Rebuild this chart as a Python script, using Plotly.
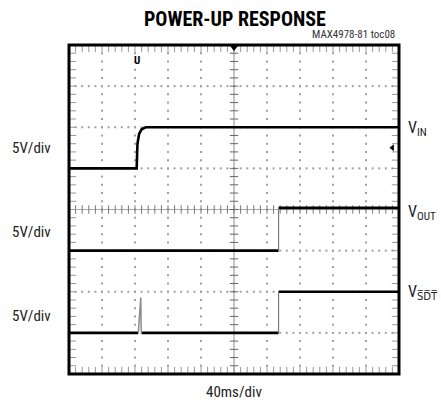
import numpy as np
import plotly.graph_objects as go

# ---- data (time in ms, voltages in V) ----
t_vin = [0, 82, 83, 85, 88, 93, 400]
v_vin = [0, 0, 3.0, 4.2, 4.75, 5.0, 5.0]

t_vout_low = [0, 254]
t_vout_high = [254, 400]
v_vout_low = 0.0
v_vout_high = 5.2

t_vsdt_low = [0, 84, 88, 254]
t_vsdt_high = [254, 400]
v_vsdt_low = 0.0
v_vsdt_high = 5.0
t_spike = [84, 85.5, 87, 87.5, 88]
v_spike = [0, 2.5, 4.3, 0.3, 0]

volts_per_div = 5.0
offset_vin, offset_vout, offset_vsdt = 5, 3, 1   # ground position in divisions
ms_per_div = 40
n_xdiv, n_ydiv = 10, 8

FONT = "Liberation Sans Narrow, Roboto Condensed, DejaVu Sans Condensed, Arial Narrow, sans-serif"

def ydiv(v, off):
    return [off + x / volts_per_div for x in v]

fig = go.Figure()

# ---- graticule dots ----
dx, dy = [], []
sub_x = np.arange(0, n_xdiv * ms_per_div + 0.1, ms_per_div / 5)
sub_y = np.arange(0, n_ydiv + 0.01, 0.2)
for i in range(1, n_xdiv):
    if i == 5:
        continue
    for yy in sub_y:
        dx.append(i * ms_per_div); dy.append(yy)
for j in range(1, n_ydiv):
    if j == 4:
        continue
    for xx in sub_x:
        dx.append(xx); dy.append(j)
fig.add_trace(go.Scatter(x=dx, y=dy, mode="markers", hoverinfo="skip",
                         marker=dict(symbol="square", size=2, color="#a0a0a0", line=dict(width=0))))

# center lines
cx = n_xdiv * ms_per_div / 2
fig.add_trace(go.Scatter(x=[cx, cx], y=[0, n_ydiv], mode="lines", hoverinfo="skip",
                         line=dict(color="#8c8c8c", width=1)))
fig.add_trace(go.Scatter(x=[0, n_xdiv * ms_per_div], y=[4, 4], mode="lines", hoverinfo="skip",
                         line=dict(color="#a8a8a8", width=1)))
# ticks on center lines and border (border ticks sit just inside the frame)
fig.add_trace(go.Scatter(x=[cx] * len(sub_y), y=list(sub_y), mode="markers", hoverinfo="skip",
                         marker=dict(symbol="line-ew", size=6, line=dict(width=1, color="#666"))))
fig.add_trace(go.Scatter(x=list(sub_x), y=[4] * len(sub_x), mode="markers", hoverinfo="skip",
                         marker=dict(symbol="line-ns", size=6, line=dict(width=1, color="#777"))))
in_y = 0.09
in_x = 0.09 * ms_per_div * 41 / 33
fig.add_trace(go.Scatter(x=list(sub_x) * 2, y=[in_y] * len(sub_x) + [n_ydiv - in_y] * len(sub_x),
                         mode="markers", hoverinfo="skip",
                         marker=dict(symbol="line-ns", size=5, line=dict(width=1, color="#999"))))
fig.add_trace(go.Scatter(x=[in_x] * len(sub_y) + [n_xdiv * ms_per_div - in_x] * len(sub_y), y=list(sub_y) * 2,
                         mode="markers", hoverinfo="skip",
                         marker=dict(symbol="line-ew", size=5, line=dict(width=1, color="#999"))))

# ---- traces ----
BLK = dict(color="black", width=2.6)
fig.add_trace(go.Scatter(x=t_vin, y=ydiv(v_vin, offset_vin), mode="lines", line=BLK))

fig.add_trace(go.Scatter(x=t_vout_low + [None] + t_vout_high,
                         y=ydiv([v_vout_low] * 2, offset_vout) + [None] + ydiv([v_vout_high] * 2, offset_vout),
                         mode="lines", line=BLK))
fig.add_trace(go.Scatter(x=[t_vout_low[-1], t_vout_high[0]],
                         y=ydiv([v_vout_low, v_vout_high], offset_vout),
                         mode="lines", line=dict(color="#777", width=1.2)))

fig.add_trace(go.Scatter(x=t_vsdt_low[:2] + [None] + t_vsdt_low[2:] + [None] + t_vsdt_high,
                         y=ydiv([v_vsdt_low] * 2, offset_vsdt) + [None] + ydiv([v_vsdt_low] * 2, offset_vsdt)
                         + [None] + ydiv([v_vsdt_high] * 2, offset_vsdt),
                         mode="lines", line=BLK))
fig.add_trace(go.Scatter(x=[t_vsdt_low[-1], t_vsdt_high[0]],
                         y=ydiv([v_vsdt_low, v_vsdt_high], offset_vsdt),
                         mode="lines", line=dict(color="#777", width=1.2)))
fig.add_trace(go.Scatter(x=t_spike, y=ydiv(v_spike, offset_vsdt), mode="lines",
                         line=dict(color="#8a8a8a", width=1.5)))

# markers: trigger position and level
fig.add_trace(go.Scatter(x=[cx], y=[n_ydiv - 0.05], mode="markers", cliponaxis=False, hoverinfo="skip",
                         marker=dict(symbol="triangle-down", size=8, color="black")))
fig.add_trace(go.Scatter(x=[392], y=[5.5], mode="markers", cliponaxis=False, hoverinfo="skip",
                         marker=dict(symbol="triangle-left", size=6, color="black")))

ann = []
ann.append(dict(x=82, y=7.62, xref="x", yref="y", text="<b>U</b>", showarrow=False,
                font=dict(size=11, color="black", family=FONT)))
for yv in [5.5, 3.45, 1.42]:
    ann.append(dict(x=-0.048, y=yv, xref="paper", yref="y", text="5V/div", showarrow=False,
                    xanchor="right", yanchor="middle", font=dict(size=15, color="#222", family=FONT)))
labels = ["V<sub>IN</sub>", "V<sub>OUT</sub>", "V<sub>S\u0305D\u0305T\u0305</sub>"]
for lab, yv in zip(labels, [5.98, 3.93, 1.98]):
    ann.append(dict(x=1.022, y=yv, xref="paper", yref="y", text=lab, showarrow=False,
                    xanchor="left", yanchor="middle", font=dict(size=16, color="#222", family=FONT)))
ann.append(dict(x=0.503, y=1.079, xref="paper", yref="paper", text="<b>POWER-UP RESPONSE</b>",
                showarrow=False, xanchor="center", yanchor="middle",
                font=dict(size=20, color="black", family=FONT)))
ann.append(dict(x=0.994, y=1.033, xref="paper", yref="paper", text="MAX4978-81 toc08",
                showarrow=False, xanchor="right", yanchor="middle",
                font=dict(size=11, color="#333", family=FONT)))
ann.append(dict(x=0.5, y=-0.055, xref="paper", yref="paper", text="40ms/div",
                showarrow=False, xanchor="center", yanchor="middle",
                font=dict(size=15, color="#222", family=FONT)))

fig.update_layout(
    width=441, height=404,
    margin=dict(l=69, r=42, t=45, b=30),
    paper_bgcolor="white", plot_bgcolor="white",
    showlegend=False,
    xaxis=dict(range=[0, n_xdiv * ms_per_div], showgrid=False, zeroline=False, showticklabels=False,
               ticks="", fixedrange=True),
    yaxis=dict(range=[0, n_ydiv], showgrid=False, zeroline=False, showticklabels=False,
               ticks="", fixedrange=True),
    shapes=[dict(type="rect", xref="paper", yref="paper", x0=0, x1=1, y0=0, y1=1,
                 line=dict(color="black", width=3), layer="above")],
    annotations=ann,
)

fig.write_html("out.html", config={"displayModeBar": False},
               post_script="document.body.style.margin='0';document.body.style.overflow='hidden';")
